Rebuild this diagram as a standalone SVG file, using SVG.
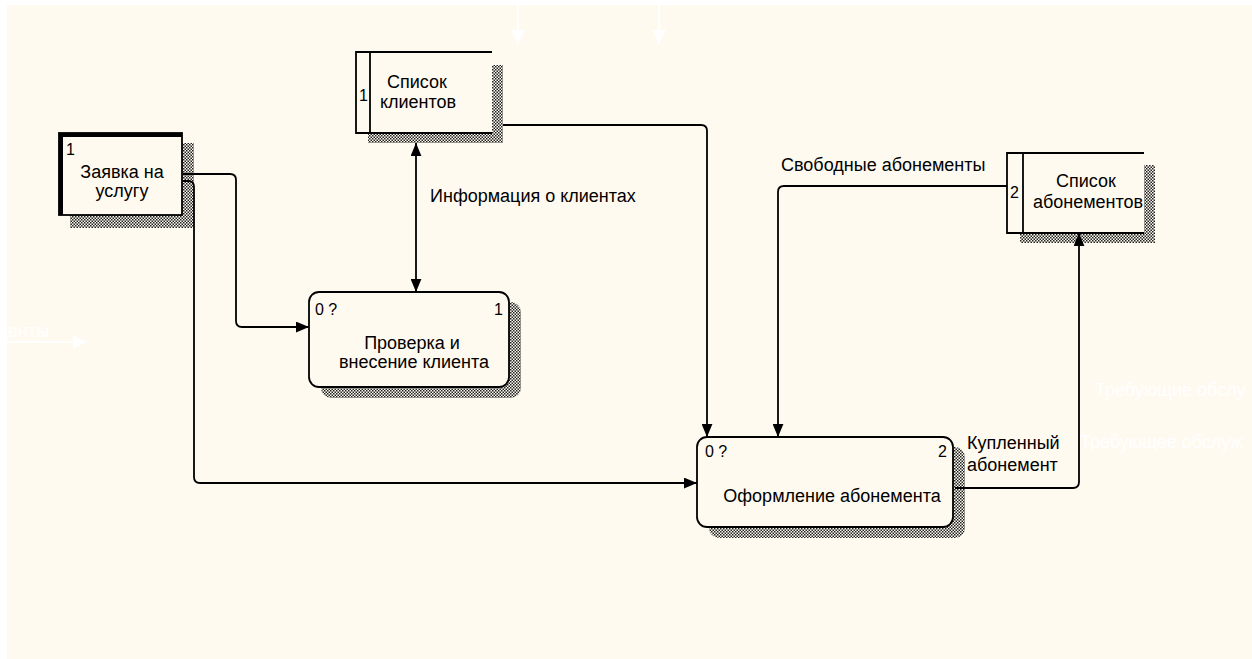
<svg xmlns="http://www.w3.org/2000/svg" width="1252" height="659" viewBox="0 0 1252 659">
<style>
  text { font-family: "Liberation Sans", Arial, sans-serif; font-size: 18px; fill: #000; }
  .c { text-anchor: middle; }
  .faint { fill: #ffffff; }
  .box { fill: #fffaf0; stroke: #000; stroke-width: 1.8; }
  .line { fill: none; stroke: #000; stroke-width: 1.8; }
  .wline { fill: none; stroke: #ffffff; stroke-width: 2; }
  .shadow { fill: url(#hatch); stroke: none; }
</style>
<defs>
  <pattern id="hatch" width="3" height="3" patternUnits="userSpaceOnUse">
    <rect width="3" height="3" fill="#fffaf0"/>
    <rect x="0" y="0" width="1.5" height="1.5" fill="#222"/>
    <rect x="1.5" y="1.5" width="1.5" height="1.5" fill="#222"/>
  </pattern>
  <marker id="arr" viewBox="0 0 12 10" refX="12" refY="5" markerWidth="13" markerHeight="11" markerUnits="userSpaceOnUse" orient="auto-start-reverse">
    <path d="M0,0 L12,5 L0,10 Z" fill="#000"/>
  </marker>
  <marker id="warr" viewBox="0 0 12 12" refX="12" refY="6" markerWidth="14" markerHeight="14" markerUnits="userSpaceOnUse" orient="auto">
    <path d="M0,0 L12,6 L0,12 Z" fill="#fff"/>
  </marker>
</defs>

<rect width="1252" height="659" fill="#ffffff"/>
<rect x="7" y="5" width="1245" height="654" fill="#fffaf0"/>

<!-- faint background elements -->
<g id="faint">
  <path class="wline" d="M518,5 L518,44" marker-end="url(#warr)"/>
  <path class="wline" d="M659,5 L659,44" marker-end="url(#warr)"/>
  <path class="wline" d="M7,342 L87,342" marker-end="url(#warr)"/>
  <text class="faint" x="8" y="337">енты</text>
  <text class="faint" x="1095" y="396">Требующие обслу</text>
  <text class="faint" x="1080" y="448">Требующее обслуж</text>
</g>

<!-- external entity -->
<g id="entity1">
  <rect class="shadow" x="70" y="143" width="124" height="85"/>
  <rect x="59" y="133" width="123" height="82" fill="#fffaf0" stroke="#000" stroke-width="1.8"/>
  <path d="M61,215 L61,135 L182,135" fill="none" stroke="#000" stroke-width="4"/>
  <text x="66" y="155" style="font-size:16px">1</text>
  <text class="c" x="122" y="178">Заявка на</text>
  <text class="c" x="122" y="197">услугу</text>
</g>

<!-- data store 1 -->
<g id="store1">
  <rect class="shadow" x="368" y="65" width="135" height="78"/>
  <rect x="356" y="52" width="136" height="81" fill="#fffaf0"/>
  <path class="line" d="M492,52 L356,52 L356,133 L492,133 M370,52 L370,133"/>
  <text x="359" y="101" style="font-size:16px">1</text>
  <text class="c" x="417" y="88">Список</text>
  <text class="c" x="418" y="108">клиентов</text>
</g>

<!-- process 1 -->
<g id="proc1">
  <rect class="shadow" x="321" y="302" width="200" height="96" rx="10"/>
  <rect class="box" x="309" y="292" width="200" height="95" rx="10"/>
  <text x="315" y="315" style="font-size:16px">0 ?</text>
  <text x="494" y="315" style="font-size:16px">1</text>
  <text class="c" x="412" y="349">Проверка и</text>
  <text class="c" x="414" y="368">внесение клиента</text>
</g>

<!-- process 2 -->
<g id="proc2">
  <rect class="shadow" x="709" y="447" width="256" height="91" rx="10"/>
  <rect class="box" x="697" y="437" width="256" height="90" rx="10"/>
  <text x="705" y="457" style="font-size:16px">0 ?</text>
  <text x="938" y="457" style="font-size:16px">2</text>
  <text class="c" x="832" y="502">Оформление абонемента</text>
</g>

<!-- data store 2 -->
<g id="store2">
  <rect class="shadow" x="1020" y="165" width="135" height="78"/>
  <rect x="1007" y="153" width="137" height="80" fill="#fffaf0"/>
  <path class="line" d="M1144,153 L1007,153 L1007,233 L1144,233 M1023,153 L1023,233"/>
  <text x="1010" y="198" style="font-size:16px">2</text>
  <text class="c" x="1086" y="187">Список</text>
  <text class="c" x="1088" y="208">абонементов</text>
</g>

<!-- connectors -->
<g id="connectors">
  <path class="line" d="M183,174 L230,174 Q236,174 236,180 L236,321 Q236,327 242,327 L309,327" marker-end="url(#arr)"/>
  <path class="line" d="M183,181 L188,181 Q194,181 194,187 L194,477 Q194,483 200,483 L697,483" marker-end="url(#arr)"/>
  <path class="line" d="M416,143 L416,292" marker-start="url(#arr)" marker-end="url(#arr)"/>
  <path class="line" d="M503,125 L701,125 Q707,125 707,131 L707,437" marker-end="url(#arr)"/>
  <path class="line" d="M1007,186 L784,186 Q778,186 778,192 L778,437" marker-end="url(#arr)"/>
  <path class="line" d="M955,488 L1073,488 Q1079,488 1079,482 L1079,233" marker-end="url(#arr)"/>
  <text x="430" y="202">Информация о клиентах</text>
  <text x="781" y="171">Свободные абонементы</text>
  <text x="967" y="449">Купленный</text>
  <text x="967" y="471">абонемент</text>
</g>
</svg>
